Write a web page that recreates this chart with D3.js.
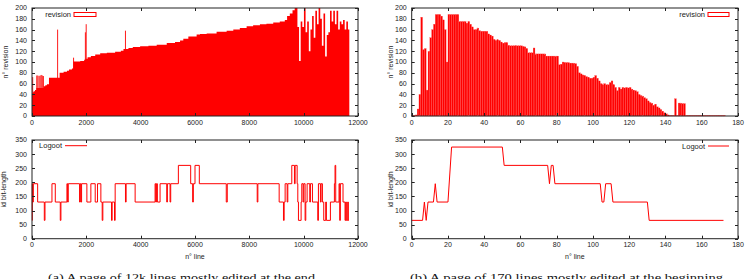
<!DOCTYPE html>
<html>
<head>
<meta charset="utf-8">
<script src="https://cdn.jsdelivr.net/npm/d3@7"></script>
<style>
  body { margin: 0; background: #fff; }
  svg { display: block; }
  text { font-family: "Liberation Sans", Arial, sans-serif; fill: #222; }
  .caption { font-family: "Liberation Serif", "DejaVu Serif", serif; fill: #111; }
</style>
</head>
<body>
<svg id="chart" width="747" height="279"></svg>
<script>
// ---- (a) 12k lines : revision per line (step profile)
const bigLine = [0,25,61,110,160,430,490,550,625,1016,1163,1286,1360,1470,1520,1775,1920,1970,2045,
  2167,2327,2510,2755,3060,3270,3367,3550,3710,3980,4285,4590,4960,5265,5450,5570,5755,6060,6185,6430,
  6795,7165,7410,7650,7900,8140,8390,8630,8880,9120,9305,9390,9490,9590,9670,
  9770,9830,9890,9950,10010,10070,10130,10190,10250,10310,10370,10430,10490,10550,10610,10670,
  10730,10790,10850,10910,10970,11030,11090,11150,11210,11270,11330,11390,11450,11510,11570,11630];
const bigRev = [42,44,46,48,52,55,57,59,71,80,82,84,86,88,101,102,104,106,109,
  111,114,116,117,119,121,124,126,128,129,130,132,135,137,140,143,147,151,152,153,
  156,158,160,163,166,168,170,171,173,175,178,185,190,196,200,
  165,102,175,165,200,155,175,120,160,185,145,195,170,200,180,130,
  190,110,150,155,195,175,195,170,195,160,175,170,178,160,175,160];
const bigEnd = 11680;
// isolated spikes above the profile
const spikeLine = [25,175,215,260,300,340,380,420,943,1530,1965,1995,3440];
const spikeRev  = [72,75,75,74,75,76,75,74,160,108,155,170,158];

// ---- (a) Logoot id bit-length (change points)
const logLine = [0,12,25,49,208,453,478,735,857,1041,1065,1286,1310,1335,1751,1776,1800,1825,2020,2167,
  2327,2412,2535,2584,2608,2927,2951,3037,3061,3441,3465,3796,4531,4555,4580,4616,4714,4960,4984,5082,
  5106,5388,5841,5914,5939,6000,6159,7151,7188,8290,8314,9098,9257,9282,9318,9392,9417,9563,9661,9686,
  9760,9784,9808,9906,9931,9980,10004,10053,10078,10127,10225,10249,10323,10519,10543,10617,10641,10690,
  10739,10812,10837,10984,11131,11155,11180,11302,11327,11351,11449,11523,11547,11572,11620,11645];
const logBits = [65,195,130,195,130,65,130,195,130,65,130,195,130,195,130,195,130,195,130,195,
  130,195,130,65,130,65,130,65,195,130,195,130,195,130,195,130,195,130,195,130,
  195,260,195,130,195,260,195,130,195,130,195,130,65,130,195,130,195,260,195,260,
  195,130,65,130,195,130,195,65,130,195,130,195,130,65,195,130,195,130,
  65,130,65,130,195,260,130,195,65,195,130,65,130,65,130,65];
const logEnd = 11669;

// ---- (b) 170 lines : revision per line
const smallRev = [1,1,2,13,40,183,123,125,48,120,
  145,160,170,188,188,188,185,178,160,100,
  188,188,188,188,188,188,175,175,175,175,
  172,175,170,165,160,160,163,158,157,157,
  157,157,152,150,148,142,140,141,140,137,
  135,136,136,131,130,130,130,130,130,130,
  130,129,128,125,117,117,117,126,115,115,
  115,115,115,115,111,111,111,111,111,111,
  111,95,96,100,99,99,99,98,98,98,
  97,92,80,78,76,75,73,72,70,70,
  72,75,70,65,60,58,60,58,58,62,
  65,58,53,47,53,50,53,52,53,52,
  53,50,48,47,45,40,38,37,34,32,
  28,25,24,20,22,17,15,12,9,6,
  4,2,1,1,1,32,1,24,24,23,
  23,1,1,1,1,1,1,1,1,1,
  1,1,1,1,1,1,1,1,1,1,
  1,1,1];

// ---- (b) Logoot id bit-length
const smallLogLine = [0,6,7,8,9,12,13,14,20,22,50,51,75,76,77,78,79,104,105,106,107,110,111,130,131,172];
const smallLogBits = [65,65,130,65,130,130,195,130,130,325,325,260,260,195,260,260,195,195,130,130,195,195,130,130,65,65];

const revTicks = d3.range(0, 201, 20);
const bitTicks = d3.range(0, 351, 50);
const bigXTicks = d3.range(0, 12001, 2000);
const smallXTicks = d3.range(0, 181, 20);

const captionA = "(a) A page of 12k lines mostly edited at the end";
const captionB = "(b) A page of 170 lines mostly edited at the beginning";

const RED = "#ff0000";
const svg = d3.select("#chart");

function panel({ x0, x1, y0, y1, xMax, yMax, xTicks, yTicks, yTitle, yTitleX, xTitle }) {
  const x = d3.scaleLinear().domain([0, xMax]).range([x0, x1]);
  const y = d3.scaleLinear().domain([0, yMax]).range([y1, y0]);
  const g = svg.append("g");
  const marks = g.append("g");
  const ax = g.append("g");

  ax.append("rect").attr("x", x0).attr("y", y0).attr("width", x1 - x0).attr("height", y1 - y0)
    .attr("fill", "none").attr("stroke", "#222").attr("stroke-width", 1);

  yTicks.forEach(t => {
    const yy = Math.round(y(t)) + 0.5;
    ax.append("line").attr("x1", x0).attr("x2", x0 + 3).attr("y1", yy).attr("y2", yy).attr("stroke", "#222");
    ax.append("line").attr("x1", x1 - 3).attr("x2", x1).attr("y1", yy).attr("y2", yy).attr("stroke", "#222");
    ax.append("text").attr("x", x0 - 5).attr("y", y(t)).attr("dy", "0.35em")
      .attr("text-anchor", "end").style("font-size", "7px").text(t);
  });
  xTicks.forEach(t => {
    const xx = Math.round(x(t)) + 0.5;
    ax.append("line").attr("x1", xx).attr("x2", xx).attr("y1", y1).attr("y2", y1 - 3).attr("stroke", "#222");
    ax.append("line").attr("x1", xx).attr("x2", xx).attr("y1", y0).attr("y2", y0 + 3).attr("stroke", "#222");
    ax.append("text").attr("x", x(t)).attr("y", y1 + 8.5)
      .attr("text-anchor", "middle").style("font-size", "7px").text(t);
  });
  ax.append("text").attr("transform", `translate(${yTitleX},${(y0 + y1) / 2}) rotate(-90)`)
    .attr("text-anchor", "middle").style("font-size", "7px").text(yTitle);
  if (xTitle) {
    ax.append("text").attr("x", (x0 + x1) / 2).attr("y", y1 + 20.5)
      .attr("text-anchor", "middle").style("font-size", "7px").text(xTitle);
  }
  return { x, y, marks, ax };
}

function legendBox(ax, right, textEnd, yy, label, kind) {
  ax.append("text").attr("x", textEnd).attr("y", yy).attr("dy", "0.35em")
    .attr("text-anchor", "end").style("font-size", "7.5px").text(label);
  if (kind === "box") {
    ax.append("rect").attr("x", textEnd + 3).attr("y", yy - 2).attr("width", right - textEnd - 3).attr("height", 4)
      .attr("fill", "#fff").attr("stroke", RED).attr("stroke-width", 1);
  } else {
    ax.append("line").attr("x1", textEnd + 3).attr("x2", right).attr("y1", yy).attr("y2", yy)
      .attr("stroke", RED).attr("stroke-width", 1);
  }
}

// ---------- top-left
const A1 = panel({ x0: 32, x1: 358, y0: 8, y1: 116, xMax: 12000, yMax: 200,
  xTicks: bigXTicks, yTicks: revTicks, yTitle: "n° revision", yTitleX: 8 });
const bigPts = bigLine.map((l, i) => [l, bigRev[i]]).concat([[bigEnd, bigRev[bigRev.length - 1]]]);
A1.marks.append("path").datum(bigPts)
  .attr("d", d3.area().curve(d3.curveStepAfter).x(d => A1.x(d[0])).y0(A1.y(0)).y1(d => A1.y(d[1])))
  .attr("fill", RED);
A1.marks.selectAll("line.spike").data(spikeLine.map((l, i) => [l, spikeRev[i]])).join("line")
  .attr("class", "spike")
  .attr("x1", d => A1.x(d[0])).attr("x2", d => A1.x(d[0]))
  .attr("y1", A1.y(0)).attr("y2", d => A1.y(d[1]))
  .attr("stroke", RED).attr("stroke-width", 0.9);
legendBox(A1.ax, 96, 71, 14.5, "revision", "box");

// ---------- bottom-left
const A2 = panel({ x0: 32, x1: 358, y0: 140, y1: 238.7, xMax: 12000, yMax: 350,
  xTicks: bigXTicks, yTicks: bitTicks, yTitle: "id bit-length", yTitleX: 6, xTitle: "n° line" });
const logPts = logLine.map((l, i) => [l, logBits[i]]).concat([[logEnd, logBits[logBits.length - 1]]]);
A2.marks.append("path").datum(logPts)
  .attr("d", d3.line().curve(d3.curveStepAfter).x(d => A2.x(d[0])).y(d => A2.y(d[1])))
  .attr("fill", "none").attr("stroke", RED).attr("stroke-width", 1);
legendBox(A2.ax, 87, 62, 145.7, "Logoot", "line");

// ---------- top-right
const B1 = panel({ x0: 411.7, x1: 738, y0: 8, y1: 116, xMax: 180, yMax: 200,
  xTicks: smallXTicks, yTicks: revTicks, yTitle: "n° revision", yTitleX: 393 });
B1.marks.selectAll("rect.bar").data(smallRev).join("rect")
  .attr("class", "bar")
  .attr("x", (d, i) => B1.x(i))
  .attr("width", B1.x(1) - B1.x(0))
  .attr("y", d => B1.y(d))
  .attr("height", d => B1.y(0) - B1.y(d))
  .attr("fill", RED).attr("stroke", "#ff5a5a").attr("stroke-width", 0.25);
legendBox(B1.ax, 729, 705, 14.5, "revision", "box");

// ---------- bottom-right
const B2 = panel({ x0: 411.7, x1: 738, y0: 140, y1: 238.7, xMax: 180, yMax: 350,
  xTicks: smallXTicks, yTicks: bitTicks, yTitle: "id bit-length", yTitleX: 393, xTitle: "n° line" });
B2.marks.append("path").datum(smallLogLine.map((l, i) => [l, smallLogBits[i]]))
  .attr("d", d3.line().x(d => B2.x(d[0])).y(d => B2.y(d[1])))
  .attr("fill", "none").attr("stroke", RED).attr("stroke-width", 1);
legendBox(B2.ax, 729, 705, 146, "Logoot", "line");

// ---------- captions
svg.append("text").attr("class", "caption").attr("x", 48).attr("y", 281)
  .attr("textLength", 267).attr("lengthAdjust", "spacingAndGlyphs")
  .style("font-size", "11px").text(captionA);
svg.append("text").attr("class", "caption").attr("x", 410).attr("y", 281)
  .attr("textLength", 313).attr("lengthAdjust", "spacingAndGlyphs")
  .style("font-size", "11px").text(captionB);
</script>
</body>
</html>
